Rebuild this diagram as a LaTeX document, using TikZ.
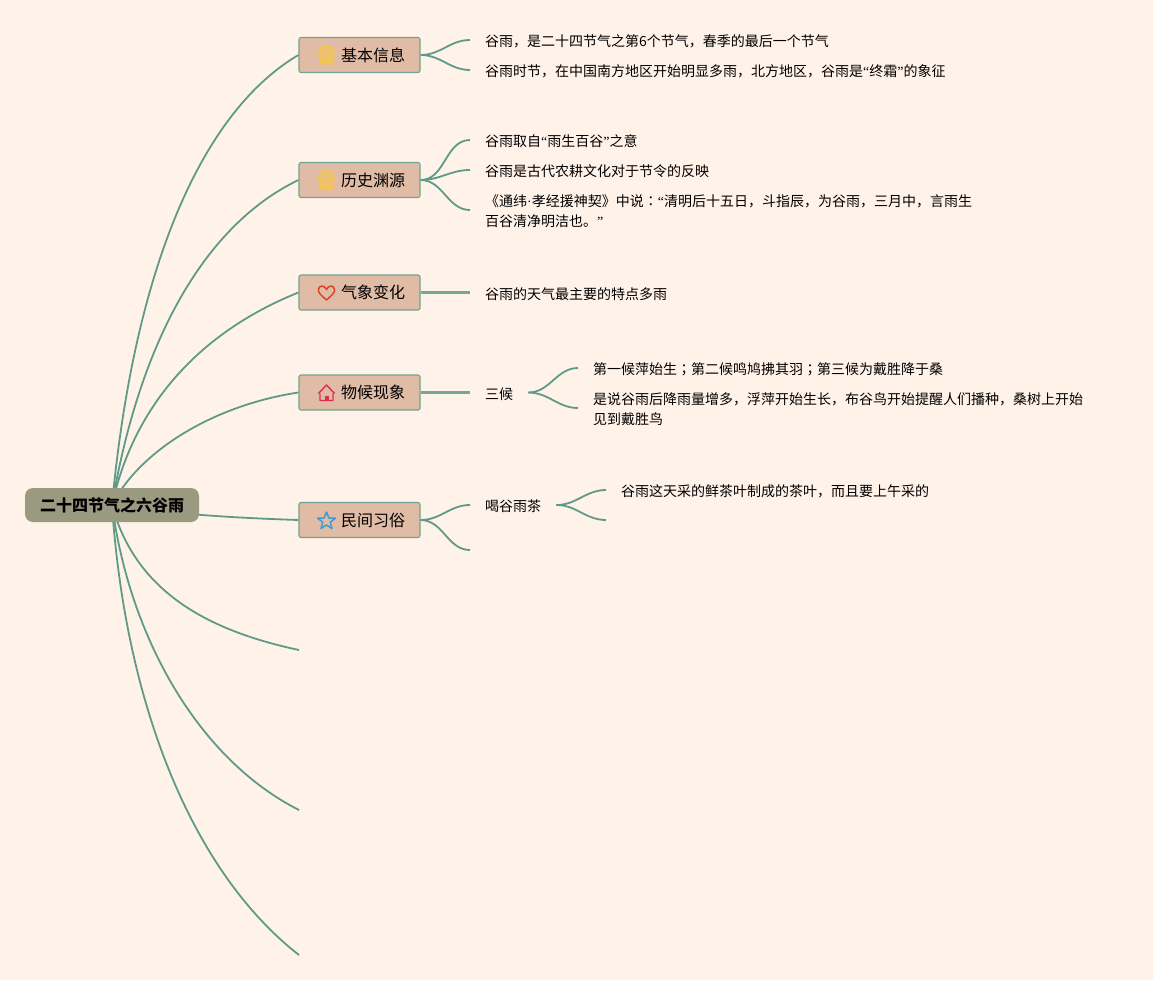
\documentclass[tikz,border=0pt]{standalone}
\usepackage{fontspec}
\usetikzlibrary{backgrounds}
\newfontfamily\cjk{Noto Sans CJK SC}
\newfontfamily\cjktc{Noto Sans CJK TC}
\newfontfamily\narrowp{Liberation Serif}
\newcommand{\openq}{{\narrowp “}}
\newcommand{\closeq}{{\narrowp ”}}
\newcommand{\topictext}[1]{\hspace*{27pt}\raisebox{-2pt}{#1}}
\definecolor{paper}{HTML}{FFF3E9}
\definecolor{stem}{HTML}{5F9A88}
\definecolor{rootfill}{HTML}{9A9A80}
\definecolor{topicfill}{HTML}{E0BBA5}
\definecolor{medalgold}{HTML}{F5C550}
\definecolor{heartred}{HTML}{D9432C}
\definecolor{housered}{HTML}{D9304F}
\definecolor{starblue}{HTML}{3F9CD2}
\tikzset{
    rootbox/.style={fill=rootfill, rounded corners=8pt, minimum width=174pt, minimum height=34pt,
        inner sep=0pt, font=\cjk\bfseries\fontsize{16}{20}\selectfont},
    topic/.style={draw=stem!90!paper, fill=topicfill, rounded corners=2pt, line width=1.1pt, minimum width=121pt,
        minimum height=35pt, inner sep=0pt, font=\cjk\fontsize{16}{20}\selectfont},
    leaf/.style={anchor=west, align=left, inner xsep=15pt, inner ysep=0pt,
        font=\cjk\fontsize{14}{20}\selectfont},
    branch/.style={draw=stem, line width=1.8pt},
    flatbranch/.style={draw=stem!85!paper, line width=2.1pt},
    medal/.pic={
        \fill[medalgold] (-5,5) -- (-8.5,11) -- (-4.5,10.5) -- (-1.5,12) -- (0,8) -- (1.5,12) -- (4.5,10.5) -- (8.5,11) -- (5,5) -- cycle;
        \draw[medalgold, line width=1.8pt, fill=medalgold!45!topicfill] (0,0) circle (7.5);
        \draw[medalgold, line width=1.4pt] (0,0) circle (3.6);
    },
    heartpic/.pic={
        \draw[heartred, line width=1.5pt, line join=round]
            (0,7.5) .. controls (-5,3) and (-9,0) .. (-8,-3.5) .. controls (-7,-7.5) and (-2,-7.5) .. (0,-3)
            .. controls (2,-7.5) and (7,-7.5) .. (8,-3.5) .. controls (9,0) and (5,3) .. (0,7.5) -- cycle;
    },
    housepic/.pic={
        \draw[housered, line width=1.4pt, line join=round]
            (-6.5,1) -- (-6.5,8) -- (6.5,8) -- (6.5,1) (-8,1) -- (0,-7.5) -- (8,1);
        \fill[housered] (-2,8) -- (-2,3) -- (2,3) -- (2,8) -- cycle;
    },
    starpic/.pic={
        \draw[starblue, line width=1.5pt, line join=round]
            (0,-9) -- (2.4,-3) -- (8.8,-2.8) -- (3.8,1.2) -- (5.5,7.5) -- (0,4) -- (-5.5,7.5) -- (-3.8,1.2) -- (-8.8,-2.8) -- (-2.4,-3) -- cycle;
    }
}
\begin{document}
\begin{tikzpicture}[x=1pt, y=-1pt]
    \useasboundingbox (0,0) rectangle (1153,980);

    \node[rootbox] (root) at (112,505) {\raisebox{-2pt}{二十四节气之六谷雨}};

    \node[topic] (info) at (359.5,55) {\topictext{基本信息}};
    \node[topic] (hist) at (359.5,180) {\topictext{历史渊源}};
    \node[topic] (wea) at (359.5,292.5) {\topictext{气象变化}};
    \node[topic] (phe) at (359.5,392.5) {\topictext{物候现象}};
    \node[topic] (cus) at (359.5,520) {\topictext{民间习俗}};

    \pic at (326.5,53.5) {medal};
    \pic at (326.5,178.5) {medal};
    \pic at (326.5,292.5) {heartpic};
    \pic at (326.5,392.5) {housepic};
    \pic at (326.5,521) {starpic};

    \coordinate (low1) at (299,650);
    \coordinate (low2) at (299,810);
    \coordinate (low3) at (299,955);
    \coordinate (cus2) at (470,550);
    \coordinate (tea2) at (606,520);

    \node[leaf] (info1) at (470,41.5) {谷雨，是二十四节气之第6个节气，春季的最后一个节气};
    \node[leaf] (info2) at (470,71.5) {谷雨时节，在中国南方地区开始明显多雨，北方地区，谷雨是\openq 终霜\closeq 的象征};
    \node[leaf] (hist1) at (470,141.5) {谷雨取自\openq 雨生百谷\closeq 之意};
    \node[leaf] (hist2) at (470,171.5) {谷雨是古代农耕文化对于节令的反映};
    \node[leaf] (hist3) at (470,211.5) {《通纬{\narrowp ·}孝经援神契》中说{\cjktc ：}\openq 清明后十五日，斗指辰，为谷雨，三月中，言雨生\\百谷清净明洁也。\closeq};
    \node[leaf] (wea1) at (470,294) {谷雨的天气最主要的特点多雨};
    \node[leaf] (phe1) at (470,394) {三候};
    \node[leaf] (phe2) at (578,369.5) {第一候萍始生{\cjktc ；}第二候鸣鸠拂其羽{\cjktc ；}第三候为戴胜降于桑};
    \node[leaf] (phe3) at (578,409.5) {是说谷雨后降雨量增多，浮萍开始生长，布谷鸟开始提醒人们播种，桑树上开始\\见到戴胜鸟};
    \node[leaf] (tea) at (470,506.5) {喝谷雨茶};
    \node[leaf] (tea1) at (606,491.5) {谷雨这天采的鲜茶叶制成的茶叶，而且要上午采的};

    \begin{scope}[on background layer]
        \fill[paper] (0,0) rectangle (1153,980);
        \draw[branch] (root.center) .. controls (135,260) and (205,110) .. (info.west);
        \draw[branch] (root.center) .. controls (140,340) and (205,225) .. (hist.west);
        \draw[branch] (root.center) .. controls (135,400) and (205,330) .. (wea.west);
        \draw[branch] (root.center) .. controls (140,450) and (215,405) .. (phe.west);
        \draw[branch] (root.center) .. controls (180,515) and (240,518) .. (cus.west);
        \draw[branch] (root.center) .. controls (135,590) and (205,630) .. (low1);
        \draw[branch] (root.center) .. controls (130,640) and (200,760) .. (low2);
        \draw[branch] (root.center) .. controls (125,700) and (190,870) .. (low3);

        \draw[branch] (info.east) to[out=0, in=180] ([yshift=1.5pt]info1.west);
        \draw[branch] (info.east) to[out=0, in=180] ([yshift=1.5pt]info2.west);
        \draw[branch] (hist.east) to[out=0, in=180] ([yshift=1.5pt]hist1.west);
        \draw[branch] (hist.east) to[out=0, in=180] ([yshift=1.5pt]hist2.west);
        \draw[branch] (hist.east) to[out=0, in=180] ([yshift=1.5pt]hist3.west);
        \draw[flatbranch] (wea.east) -- ([yshift=1.5pt]wea1.west);
        \draw[flatbranch] (phe.east) -- ([yshift=1.5pt]phe1.west);
        \draw[branch] ([yshift=1.5pt]phe1.east) to[out=0, in=180] ([yshift=1.5pt]phe2.west);
        \draw[branch] ([yshift=1.5pt]phe1.east) to[out=0, in=180] ([yshift=1.5pt]phe3.west);
        \draw[branch] (cus.east) to[out=0, in=180] ([yshift=1.5pt]tea.west);
        \draw[branch] (cus.east) to[out=0, in=180] (cus2);
        \draw[branch] ([yshift=1.5pt]tea.east) to[out=0, in=180] ([yshift=1.5pt]tea1.west);
        \draw[branch] ([yshift=1.5pt]tea.east) to[out=0, in=180] (tea2);
    \end{scope}
\end{tikzpicture}
\end{document}
